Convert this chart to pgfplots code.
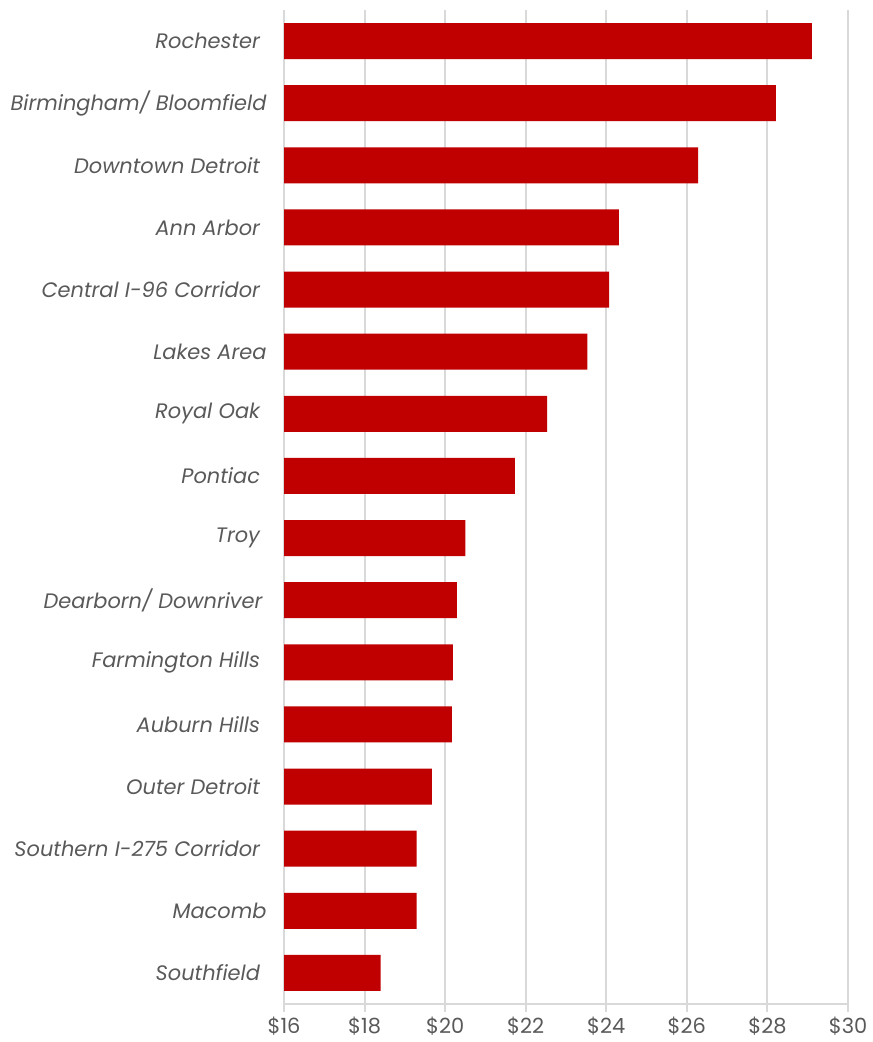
\documentclass[border=0pt]{standalone}
\usepackage{fontspec}
\setmainfont{Poppins}
\usepackage{pgfplots}
\pgfplotsset{compat=1.18}
\definecolor{barred}{RGB}{192,0,0}
\definecolor{gridgray}{RGB}{217,217,217}
\definecolor{txt}{RGB}{89,89,89}
\newcommand{\tsp}{\kern6.5bp}
\begin{document}
\begin{tikzpicture}[x=1bp,y=1bp]
\begin{axis}[
  at={(284bp,38bp)}, anchor=south west,
  scale only axis, width=564bp, height=994bp,
  xmin=16, xmax=30, xtick={16,18,...,30},
  ymin=-0.5, ymax=15.5, ytick={0,...,15},
  yticklabels={Southfield\tsp, Macomb, Southern I-275 Corridor\tsp, Outer Detroit\tsp, Auburn Hills\tsp, Farmington Hills\tsp, Dearborn/ Downriver\kern4bp, Troy\tsp, Pontiac\tsp, Royal Oak\tsp, Lakes Area, Central I-96 Corridor\tsp, Ann Arbor\tsp, Downtown Detroit\tsp, Birmingham/ Bloomfield, Rochester\tsp},
  xbar, bar width=0.58, bar shift=0pt,
  xmajorgrids, major grid style={gridgray, line width=2bp},
  axis x line*=bottom, axis y line*=left,
  x axis line style={gridgray, line width=2bp, -},
  y axis line style={draw=none},
  ytick style={draw=none},
  xtick style={gridgray, line width=2bp},
  tick align=outside, major tick length=8bp,
  xticklabel={\$\pgfmathprintnumber{\tick}},
  /pgf/number format/assume math mode=true,
  xticklabel style={font=\fontsize{21}{24}\selectfont, text=txt, yshift=-1bp},
  yticklabel style={font=\itshape\fontsize{21}{24}\selectfont, text=txt, xshift=-6bp},
]
\addplot[fill=barred, draw=none] coordinates {
(18.40,0) (19.29,1) (19.29,2) (19.67,3) (20.17,4) (20.19,5) (20.29,6) (20.50,7)
(21.73,8) (22.53,9) (23.53,10) (24.07,11) (24.31,12) (26.28,13) (28.21,14) (29.10,15)};
\end{axis}
\pgfresetboundingbox
\path (0,0) rectangle (873,1042);
\end{tikzpicture}
\end{document}
